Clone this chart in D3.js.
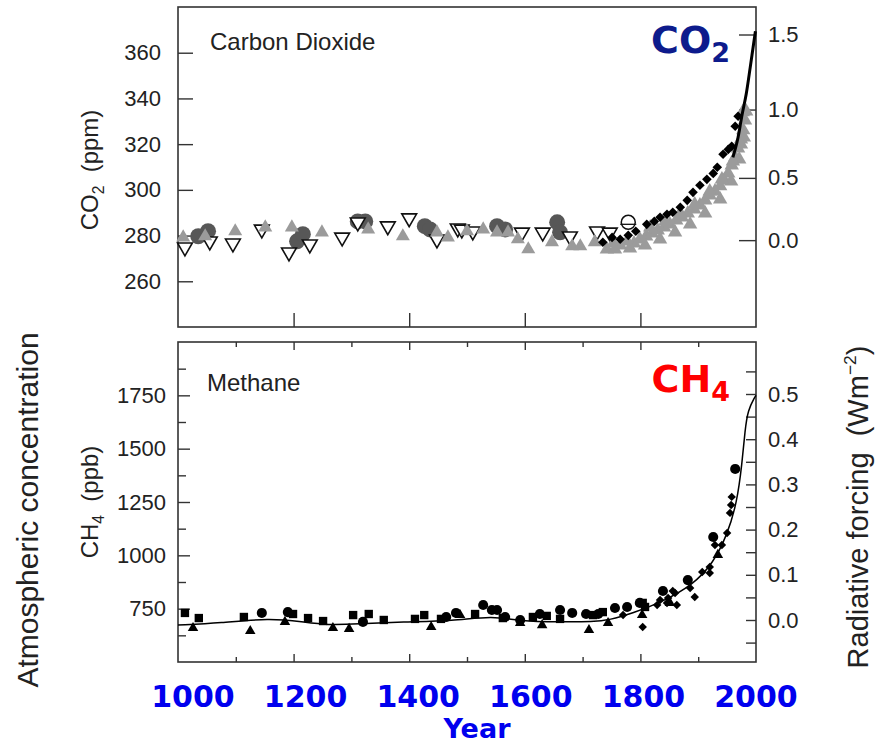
<!DOCTYPE html>
<html lang="en">
<head>
<meta charset="UTF-8">
<title>CO2 and CH4 over the last millennium</title>
<script src="https://d3js.org/d3.v7.min.js"></script>
<style>
  body { margin: 0; background: #ffffff; }
  svg { display: block; }
  .frame { fill: none; stroke: #333; stroke-width: 1.6; }
  .axis path.domain { display: none; }
  .axis line { stroke: #333; stroke-width: 1.4; }
  .axis text { font-family: "Liberation Sans", Arial, sans-serif; font-size: 22px; fill: #222; }
  .lbl { font-family: "Liberation Sans", Arial, sans-serif; fill: #222; }
  .big { font-family: "DejaVu Sans", Verdana, sans-serif; font-weight: bold; }
</style>
</head>
<body>
<div id="chart"></div>
<script>
// ---- CO2 panel data: [year, ppm] ----
const co2Circles = [
  [1035, 279.7], [1052, 281.9], [1206, 277.5], [1216, 280.6], [1311, 286.2], [1324, 286.2],
  [1427, 284.1], [1436, 282.7], [1552, 284.1], [1566, 282.7], [1656, 285.8], [1661, 281.4]
];
const co2OpenTri = [
  [1012, 274.9], [1055, 277.5], [1095, 276.6], [1145, 282.7], [1192, 272.7], [1228, 276.2],
  [1284, 279.2], [1311, 285.8], [1363, 284.1], [1400, 287.6], [1448, 278.4], [1484, 283.2],
  [1491, 282.7], [1510, 281.9], [1595, 281.4], [1631, 281.4], [1678, 279.7], [1725, 281.9],
  [1747, 281.4]
];
const co2GreyTri = [
  [1009, 279.2], [1047, 279.7], [1099, 281.9], [1151, 283.6], [1197, 283.6], [1249, 281.4],
  [1329, 282.7], [1389, 279.7], [1448, 281.4], [1467, 279.2], [1500, 281.9], [1528, 282.7],
  [1552, 281.4], [1571, 281.4], [1588, 278.4], [1606, 274.0], [1647, 277.1], [1682, 275.3],
  [1696, 275.3], [1721, 277.1]
];
const co2GreyRise = [
  [1742, 274.0], [1753, 276.6], [1765, 275.7], [1777, 277.5], [1789, 276.6], [1799, 278.4],
  [1810, 279.7], [1820, 281.0], [1830, 282.3], [1841, 283.6], [1851, 284.9], [1862, 286.7],
  [1872, 288.0], [1882, 289.7], [1893, 291.5], [1903, 293.2], [1912, 295.4], [1920, 297.6],
  [1929, 299.4], [1938, 301.6], [1945, 304.2], [1952, 307.2], [1958, 310.7], [1964, 314.2],
  [1969, 318.2], [1974, 322.1], [1978, 326.1], [1981, 330.4], [1983, 334.4],
  [1756, 274.0], [1782, 274.4], [1808, 275.7], [1834, 278.4], [1860, 281.4], [1886, 284.9],
  [1912, 289.7], [1938, 295.9], [1957, 303.7], [1971, 313.4], [1979, 323.0],
  [1817, 283.6], [1843, 286.2], [1869, 289.7], [1894, 293.7], [1920, 299.4], [1941, 304.6],
  [1960, 312.5], [1974, 319.9], [1977, 334.0]
];
const co2Diamonds = [
  [1735, 277.1], [1751, 279.2], [1765, 278.4], [1779, 280.1], [1792, 281.9], [1811, 284.9],
  [1824, 286.2], [1834, 288.0], [1846, 289.3], [1856, 290.2], [1869, 292.4], [1881, 295.4],
  [1891, 298.9], [1903, 302.0], [1915, 304.6], [1926, 307.2], [1933, 309.9], [1943, 315.6],
  [1952, 317.7], [1958, 319.1], [1964, 327.8], [1969, 332.2]
];
const co2OpenCircle = [[1779, 285.8]];
const co2Instrument = [
  [1960, 314.2], [1969, 323.0], [1976, 333.0], [1983, 341.8], [1990, 353.6], [1995, 362.4], [1999, 369.4]
];

// ---- CH4 panel data: [year, ppb] ----
const ch4Squares = [
  [1012, 730], [1036, 706], [1114, 711], [1199, 725], [1225, 706], [1251, 692], [1303, 720],
  [1330, 725], [1356, 697], [1410, 702], [1426, 720], [1455, 702], [1514, 725], [1562, 706],
  [1614, 711], [1638, 716], [1661, 702], [1718, 720], [1735, 734], [1804, 777], [1808, 758]
];
const ch4Circles = [
  [1145, 730], [1190, 734], [1320, 688], [1464, 711], [1481, 730], [1528, 767], [1543, 744],
  [1552, 744], [1566, 711], [1592, 697], [1626, 725], [1661, 744], [1682, 730], [1706, 725],
  [1727, 725], [1756, 753], [1777, 758], [1799, 777], [1839, 833], [1882, 884], [1926, 1086],
  [1964, 1405]
];
const ch4Triangles = [
  [1026, 659], [1125, 645], [1185, 688], [1268, 659], [1296, 655], [1438, 664], [1488, 720],
  [1592, 683], [1630, 673], [1711, 650], [1744, 683], [1803, 720], [1851, 777], [1934, 1002]
];
const ch4Diamonds = [
  [1770, 720], [1804, 664], [1829, 767], [1856, 833], [1846, 777], [1834, 791], [1848, 800],
  [1860, 823], [1863, 767], [1886, 847], [1894, 805], [1907, 922], [1920, 945], [1920, 917],
  [1929, 1048], [1941, 1048], [1950, 1105], [1955, 1199], [1957, 1236], [1958, 1274]
];
const ch4Fit = [
  [1000, 673], [1073, 683], [1159, 706], [1216, 688], [1258, 673], [1310, 678], [1389, 688],
  [1476, 692], [1545, 718], [1592, 690], [1661, 688], [1718, 688], [1747, 697], [1787, 730],
  [1834, 777], [1891, 861], [1926, 964], [1950, 1095], [1967, 1245], [1976, 1433], [1981, 1588],
  [1986, 1681], [1998, 1742], [2000, 1750]
];

// ---- ticks ----
const yearMajor = [1200, 1400, 1600, 1800];
const yearMinor = [1100, 1300, 1500, 1700, 1900];
const yearLabels = [1000, 1200, 1400, 1600, 1800, 2000];
const co2Ticks = [260, 280, 300, 320, 340, 360];
const rfCo2Ticks = [0.0, 0.5, 1.0, 1.5];
const ch4Ticks = [750, 1000, 1250, 1500, 1750];
const ch4Minor = [625, 875, 1125, 1375, 1625, 1875];
const rfCh4Ticks = [0.0, 0.1, 0.2, 0.3, 0.4, 0.5];
const rfCh4Minor = [-0.05, 0.05, 0.15, 0.25, 0.35, 0.45, 0.55];

const W = 876, H = 743;
const svg = d3.select("#chart").append("svg").attr("width", W).attr("height", H);

const x = d3.scaleLinear().domain([1000, 2000]).range([178, 756]);
const xLab = d3.scaleLinear().domain([1000, 2000]).range([193, 756]); // blue overlay labels
const yCO2 = d3.scaleLinear().domain([240, 380]).range([327, 7]);
const yCH4 = d3.scaleLinear().domain([500, 2000]).range([662, 342]);
const yRF = d3.scaleLinear().domain([0, 0.5]).range([620, 394]);
// CO2 forcing: F = 5.35 ln(C / 278)
const co2ForF = f => 278 * Math.exp(f / 5.35);

const L = x.range()[0], R = x.range()[1];

function addAxis(axis, tx, ty) {
  svg.append("g").attr("class", "axis").attr("transform", `translate(${tx},${ty})`).call(axis);
}

// ---- CO2 panel axes ----
addAxis(d3.axisLeft(yCO2).tickValues(co2Ticks).tickSizeInner(-15).tickSizeOuter(0).tickPadding(17), L, 0);
addAxis(d3.axisRight(yCO2).tickValues(rfCo2Ticks.map(co2ForF))
  .tickFormat((d, i) => d3.format(".1f")(rfCo2Ticks[i])).tickSizeInner(-17).tickSizeOuter(0).tickPadding(12), R, 0);
addAxis(d3.axisBottom(x).tickValues(yearMajor).tickSizeInner(-14).tickSizeOuter(0).tickFormat(""), 0, yCO2.range()[0]);

// ---- CH4 panel axes ----
addAxis(d3.axisLeft(yCH4).tickValues(ch4Ticks).tickFormat(d3.format("d"))
  .tickSizeInner(-12).tickSizeOuter(0).tickPadding(12), L, 0);
addAxis(d3.axisLeft(yCH4).tickValues(ch4Minor).tickSizeInner(-8).tickSizeOuter(0).tickFormat(""), L, 0);
addAxis(d3.axisRight(yRF).tickValues(rfCh4Ticks).tickFormat(d3.format(".1f"))
  .tickSizeInner(-10).tickSizeOuter(0).tickPadding(12), R, 0);
addAxis(d3.axisRight(yRF).tickValues(rfCh4Minor).tickFormat("").tickSizeInner(-10).tickSizeOuter(0), R, 0);
[[d3.axisBottom, yCH4.range()[0]], [d3.axisTop, yCH4.range()[1]]].forEach(([ax, ty]) => {
  addAxis(ax(x).tickValues(yearMajor).tickSizeInner(-8).tickSizeOuter(0).tickFormat(""), 0, ty);
  addAxis(ax(x).tickValues(yearMinor).tickSizeInner(-5).tickSizeOuter(0).tickFormat(""), 0, ty);
});

// frames
svg.append("rect").attr("class", "frame")
  .attr("x", L).attr("y", yCO2.range()[1]).attr("width", R - L).attr("height", yCO2.range()[0] - yCO2.range()[1]);
svg.append("rect").attr("class", "frame")
  .attr("x", L).attr("y", yCH4.range()[1]).attr("width", R - L).attr("height", yCH4.range()[0] - yCH4.range()[1]);

// ---- marks ----
function marks(data, ys, type, size, fill, stroke, rot) {
  svg.append("g").selectAll("path").data(data).join("path")
    .attr("d", d3.symbol().type(type).size(size))
    .attr("transform", d => `translate(${x(d[0])},${ys(d[1])})` + (rot ? ` rotate(${rot})` : ""))
    .attr("fill", fill).attr("stroke", stroke || "none").attr("stroke-width", stroke ? 1.6 : 0);
}

// CO2
marks(co2Circles, yCO2, d3.symbolCircle, 200, "#575757");
marks(co2OpenTri, yCO2, d3.symbolTriangle, 95, "#ffffff", "#111", 180);
marks(co2GreyTri, yCO2, d3.symbolTriangle, 85, "#9b9b9b");
marks(co2GreyRise, yCO2, d3.symbolTriangle, 90, "#9b9b9b");
marks(co2Diamonds, yCO2, d3.symbolSquare, 46, "#000", null, 45);
const oc = svg.append("g").selectAll("g").data(co2OpenCircle).join("g")
  .attr("transform", d => `translate(${x(d[0])},${yCO2(d[1])})`);
oc.append("circle").attr("r", 7).attr("fill", "#fff").attr("stroke", "#111").attr("stroke-width", 1.5);
oc.append("line").attr("x1", -8).attr("x2", 8).attr("y1", 2).attr("y2", 2).attr("stroke", "#111").attr("stroke-width", 1.3);
svg.append("path").datum(co2Instrument)
  .attr("fill", "none").attr("stroke", "#000").attr("stroke-width", 3)
  .attr("d", d3.line().x(d => x(d[0])).y(d => yCO2(d[1])).curve(d3.curveMonotoneX));

// CH4
svg.append("path").datum(ch4Fit)
  .attr("fill", "none").attr("stroke", "#000").attr("stroke-width", 1.5)
  .attr("d", d3.line().x(d => x(d[0])).y(d => yCH4(d[1])).curve(d3.curveBasis));
marks(ch4Squares, yCH4, d3.symbolSquare, 70, "#000");
marks(ch4Circles, yCH4, d3.symbolCircle, 80, "#000");
marks(ch4Triangles, yCH4, d3.symbolTriangle, 48, "#000");
marks(ch4Diamonds, yCH4, d3.symbolSquare, 36, "#000", null, 45);

// ---- texts ----
svg.append("text").attr("class", "lbl").attr("x", 210).attr("y", 50).attr("font-size", 24).text("Carbon Dioxide");
svg.append("text").attr("class", "lbl").attr("x", 207).attr("y", 391).attr("font-size", 24).text("Methane");

function rotLabel(cx, cy, size, parts) {
  const t = svg.append("text").attr("class", "lbl").attr("font-size", size).attr("text-anchor", "middle")
    .attr("transform", `translate(${cx},${cy}) rotate(-90)`);
  parts.forEach(p => {
    const s = t.append("tspan").text(p.t);
    if (p.sub) s.attr("font-size", size * 0.65).attr("dy", size * 0.25);
    if (p.sup) s.attr("font-size", size * 0.6).attr("dy", -size * 0.4);
    if (p.back) s.attr("dy", p.back);
  });
}
rotLabel(98, 170, 24, [{ t: "CO" }, { t: "2", sub: true }, { t: "\u00a0\u00a0(ppm)", back: -24 * 0.25 }]);
rotLabel(98, 502, 24, [{ t: "CH" }, { t: "4", sub: true }, { t: "\u00a0\u00a0(ppb)", back: -24 * 0.25 }]);
rotLabel(38, 510, 30, [{ t: "Atmospheric concentration" }]);
rotLabel(868, 507, 29, [{ t: "Radiative forcing\u00a0\u00a0(Wm" }, { t: "−2", sup: true }, { t: ")", back: 29 * 0.4 }]);

// gas titles
function gasTitle(xe, yb, main, sub, color) {
  const t = svg.append("text").attr("class", "big").attr("x", xe).attr("y", yb)
    .attr("text-anchor", "end").attr("font-size", 38).attr("fill", color);
  t.append("tspan").text(main);
  t.append("tspan").text(sub).attr("font-size", 27).attr("dy", 9);
}
gasTitle(730, 53, "CO", "2", "#0d1b8c");
gasTitle(730, 392, "CH", "4", "#ff0000");

// blue year labels
svg.append("g").selectAll("text").data(yearLabels).join("text")
  .attr("class", "big").attr("x", d => xLab(d)).attr("y", 707)
  .attr("text-anchor", "middle").attr("font-size", 30).attr("fill", "#0000ee").text(d => d);
svg.append("text").attr("class", "big").attr("x", 477).attr("y", 738)
  .attr("text-anchor", "middle").attr("font-size", 27).attr("fill", "#0000ee").text("Year");
</script>
</body>
</html>
